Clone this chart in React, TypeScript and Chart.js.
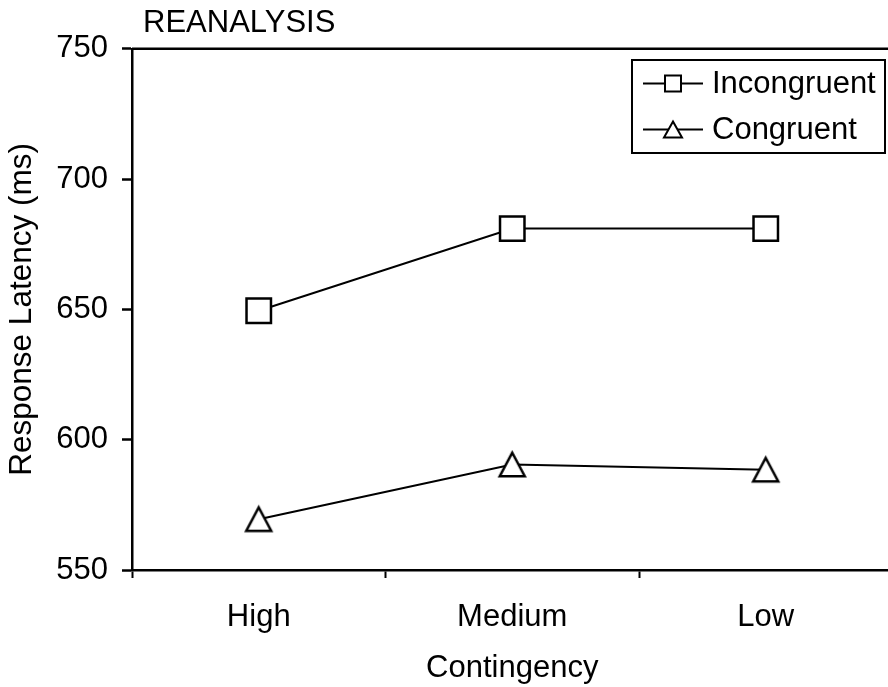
import React, { useEffect, useRef } from "react";
import { Chart, registerables } from "chart.js";
Chart.register(...registerables);

const categories = ["High", "Medium", "Low"];
const seriesNames = ["Incongruent", "Congruent"];
const incongruent = [649.5, 681, 681];
const congruent = [569.5, 590.5, 588.5];
const yTicks = [550, 600, 650, 700, 750];
const chartTitle = "REANALYSIS";
const xTitle = "Contingency";
const yTitle = "Response Latency (ms)";

const FONT = "'Liberation Sans', Arial, Helvetica, sans-serif";
const FS = 31;
const CW = 905;
const CH = 687;

function makeTriangle(w: number, h: number, lw: number): HTMLCanvasElement {
  const size = Math.ceil(Math.max(w, h) + lw * 4);
  const c = document.createElement("canvas");
  c.width = size;
  c.height = size;
  const g = c.getContext("2d")!;
  const cx = size / 2;
  const cy = size / 2;
  g.beginPath();
  g.moveTo(cx, cy - h / 2);
  g.lineTo(cx + w / 2, cy + h / 2);
  g.lineTo(cx - w / 2, cy + h / 2);
  g.closePath();
  g.fillStyle = "#fff";
  g.fill();
  g.lineWidth = lw;
  g.strokeStyle = "#000";
  g.lineJoin = "miter";
  g.stroke();
  return c;
}

export default function App() {
  const ref = useRef<HTMLCanvasElement | null>(null);
  useEffect(() => {
    const canvas = ref.current!;
    const tri = makeTriangle(25, 23.5, 2.5);

    const decor = {
      id: "decor",
      afterDraw(chart: any) {
        const ctx = chart.ctx as CanvasRenderingContext2D;
        const { left, top, right, bottom } = chart.chartArea;
        ctx.save();
        ctx.strokeStyle = "#000";
        ctx.lineWidth = 2.5;
        ctx.beginPath();
        ctx.moveTo(left, top);
        ctx.lineTo(right, top);
        ctx.lineTo(right, bottom);
        ctx.stroke();

        ctx.fillStyle = "#000";
        ctx.font = `${FS}px ${FONT}`;
        ctx.textAlign = "left";
        ctx.textBaseline = "middle";
        ctx.fillText(chartTitle, 143, 23);

        // legend
        const bx = 632, by = 60, bw = 253, bh = 93;
        ctx.fillStyle = "#fff";
        ctx.fillRect(bx, by, bw, bh);
        ctx.lineWidth = 2;
        ctx.strokeRect(bx, by, bw, bh);
        const rows = [by + 23.5, by + 69.5];
        seriesNames.forEach((name, i) => {
          const y = rows[i];
          const cx = 673;
          ctx.lineWidth = 2;
          ctx.beginPath();
          ctx.moveTo(643, y);
          ctx.lineTo(703, y);
          ctx.stroke();
          ctx.fillStyle = "#fff";
          ctx.beginPath();
          if (i === 0) {
            ctx.rect(cx - 8, y - 8, 16, 16);
          } else {
            ctx.moveTo(cx, y - 8);
            ctx.lineTo(cx + 9, y + 8);
            ctx.lineTo(cx - 9, y + 8);
            ctx.closePath();
          }
          ctx.fill();
          ctx.stroke();
          ctx.fillStyle = "#000";
          ctx.textAlign = "left";
          ctx.textBaseline = "middle";
          ctx.fillText(name, 712, y + 1);
        });
        ctx.restore();
      },
    };

    const chart = new Chart(canvas, {
      type: "line",
      data: {
        labels: categories,
        datasets: [
          {
            label: seriesNames[0],
            data: incongruent,
            borderColor: "#000",
            borderWidth: 2,
            pointStyle: "rect",
            pointRadius: 17.3,
            pointBorderWidth: 2.5,
            pointBackgroundColor: "#fff",
            pointBorderColor: "#000",
            tension: 0,
          },
          {
            label: seriesNames[1],
            data: congruent,
            borderColor: "#000",
            borderWidth: 2,
            pointStyle: tri as any,
            pointRadius: 17,
            pointBackgroundColor: "#fff",
            pointBorderColor: "#000",
            tension: 0,
          },
        ],
      },
      options: {
        responsive: false,
        animation: false,
        events: [],
        layout: { autoPadding: false, padding: { top: 48.8, right: CW - 892.5, left: 0, bottom: 0 } },
        plugins: {
          legend: { display: false },
          tooltip: { enabled: false },
          title: { display: false },
        },
        scales: {
          x: {
            type: "category",
            offset: true,
            afterFit: (s: any) => {
              s.height = CH - 570;
            },
            grid: {
              offset: true,
              drawOnChartArea: false,
              drawTicks: true,
              tickLength: 8,
              tickWidth: 2,
              tickColor: "#000",
            },
            border: { display: true, color: "#000", width: 2.5 },
            ticks: {
              color: "#000",
              font: { family: FONT, size: FS },
              padding: 20.5,
              maxRotation: 0,
            },
            title: {
              display: true,
              text: xTitle,
              color: "#000",
              font: { family: FONT, size: FS },
              padding: { top: 0, bottom: 0 },
            },
          },
          y: {
            type: "linear",
            min: 550,
            max: 750,
            afterFit: (s: any) => {
              s.width = 132;
            },
            afterBuildTicks: (s: any) => {
              s.ticks = yTicks.map((v) => ({ value: v }));
            },
            grid: {
              drawOnChartArea: false,
              drawTicks: true,
              tickLength: 10,
              tickWidth: 2.5,
              tickColor: "#000",
            },
            border: { display: true, color: "#000", width: 2.5 },
            ticks: {
              color: "#000",
              font: { family: FONT, size: FS },
              padding: 14,
            },
            title: {
              display: true,
              text: yTitle,
              color: "#000",
              font: { family: FONT, size: 31.5 },
              padding: { top: 3.5, bottom: 0 },
            },
          },
        },
      },
      plugins: [decor],
    });
    return () => chart.destroy();
  }, []);

  return (
    <div
      style={{
        position: "fixed",
        left: 0,
        top: 0,
        width: 888,
        height: 687,
        overflow: "hidden",
        background: "#fff",
      }}
    >
      <canvas ref={ref} width={CW} height={CH} style={{ display: "block", width: CW, height: CH }} />
    </div>
  );
}
